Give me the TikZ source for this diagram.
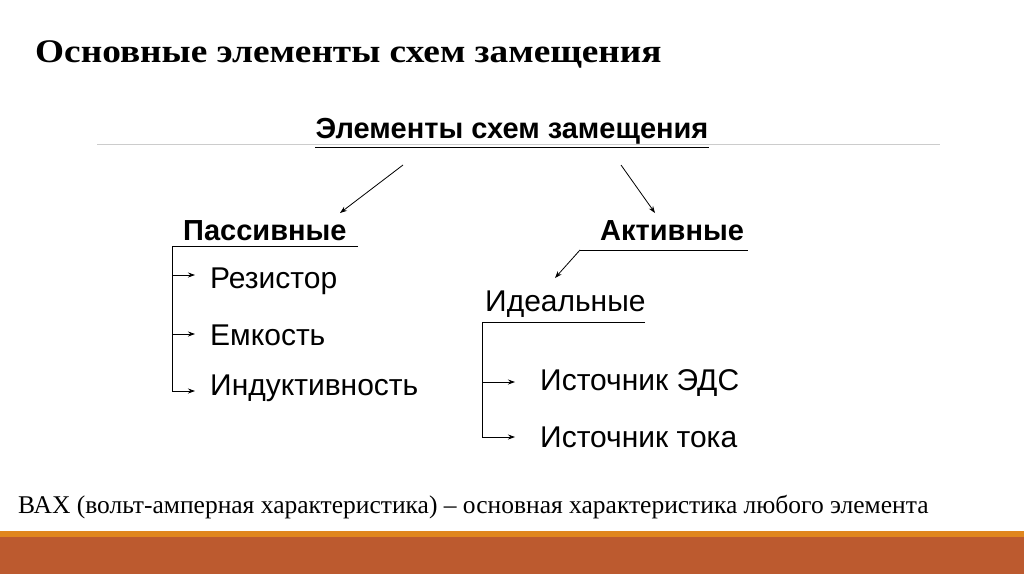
\documentclass[tikz,border=0pt]{standalone}
\usepackage{fontspec}
\setmainfont{Liberation Serif}
\setsansfont{Liberation Sans}
\usetikzlibrary{calc,arrows.meta}
\begin{document}
\begin{tikzpicture}[x=1pt,y=-1pt,
  lbl/.style={font=\sffamily\fontsize{30}{34}\selectfont,anchor=west,inner sep=0},
  hd/.style={font=\sffamily\bfseries\fontsize{29}{34}\selectfont,inner sep=0},
  arr/.style={-{Stealth[length=7pt,width=5pt]},black,line width=0.8pt},
  ln/.style={black,line width=0.8pt}]
\useasboundingbox (0,0) rectangle (1024,574);
\fill[white] (0,0) rectangle (1024,574);
\fill[color={rgb,255:red,188;green,90;blue,47}] (0,537) rectangle (1024,574);
\fill[color={rgb,255:red,224;green,134;blue,30}] (0,531) rectangle (1024,537);
\node[anchor=base west,inner sep=0,xscale=1.13,font=\bfseries\fontsize{33}{38}\selectfont] (title) at (35,62) {Основные элементы схем замещения};
\draw[gray!40] (97,144) -- (940,144);
\node[hd,anchor=base] (root) at (512,138) {Элементы схем замещения};
\draw[ln] ($(root.south west)+(0,3)$) -- ($(root.south east)+(0,3)$);
\node[hd,anchor=base west] (pas) at (183,240) {Пассивные};
\node[hd,anchor=base west] (act) at (600,240) {Активные};
\coordinate (r1) at (403,165); \coordinate (r2) at (621,165);
\draw[arr] (r1) -- (340,213);
\draw[arr] (r2) -- (655,213);
\coordinate (pu1) at (172,246); \coordinate (pu2) at (358,246);
\draw[ln] (pu2) -- (pu1) -- (172,391);
\node[lbl] (res) at (210,281) {Резистор};
\node[lbl] (cap) at (210,335) {Емкость};
\node[lbl] (ind) at (210,388) {Индуктивность};
\draw[arr] (172,275) -- (195,275);
\draw[arr] (172,334) -- (195,334);
\draw[arr] (172,391) -- (195,391);
\coordinate (au1) at (580,250); \coordinate (au2) at (748,250);
\draw[ln] (au1) -- (au2);
\draw[arr] (au1) -- (555,278);
\node[lbl] (ide) at (485,304) {Идеальные};
\draw[ln] (645,322) -- (482,322) -- (482,437);
\node[lbl] (emf) at (540,383) {Источник ЭДС};
\node[lbl] (cur) at (540,437) {Источник тока};
\draw[arr] (482,382) -- (515,382);
\draw[arr] (482,437) -- (515,437);
\node[anchor=base west,inner sep=0,xscale=1.0,font=\fontsize{25.5}{29}\selectfont] (vax) at (18,513) {ВАХ (вольт-амперная характеристика) – основная характеристика любого элемента};
\end{tikzpicture}
\end{document}
